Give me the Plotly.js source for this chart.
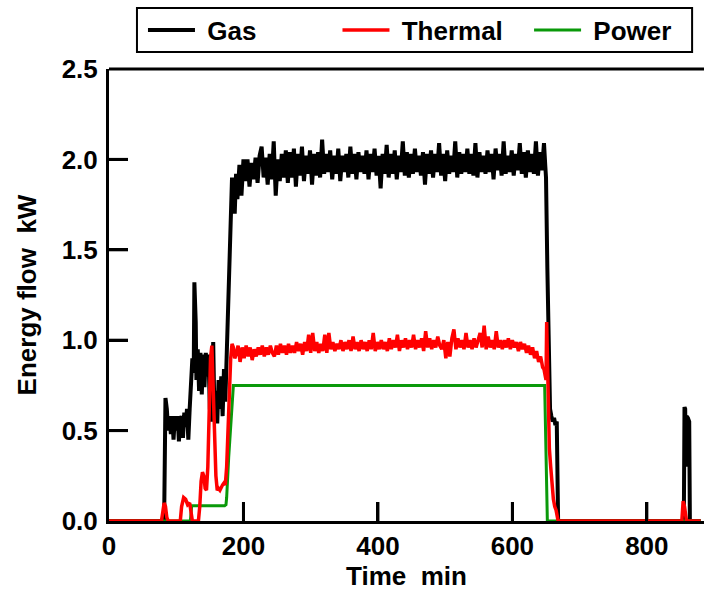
<!DOCTYPE html>
<html><head><meta charset="utf-8">
<script src="https://cdn.plot.ly/plotly-3.0.1.min.js"></script>
<style>html,body{margin:0;padding:0;background:#fff;overflow:hidden}</style>
</head><body><div id="chart" style="width:704px;height:596px"></div>
<script>
// ---- data (minutes, kW) ----
const gasTime = [0,82,84,86,88,90,92,94,96,98,100,102,104,106,108,110,112,114,116,118,120,
  122,124,126,127,129,130,132,134,136,138,140,142,144,146,148,150,152,154,155,157,159,161,163,165,167,169,171,173,
  175,177,179,181,183,185,187,189,
  191,194,197,200,203,206,209,212,215,218,
  221,224,227,230,233,236,239,242,245,248,
  251,254,257,260,263,266,269,272,275,278,
  281,284,287,290,293,296,299,302,305,308,
  311,314,317,320,323,326,329,332,335,338,
  341,344,347,350,353,356,359,362,365,368,
  371,374,377,380,383,386,389,392,395,398,
  401,404,407,410,413,416,419,422,425,428,
  431,434,437,440,443,446,449,452,455,458,
  461,464,467,470,473,476,479,482,485,488,
  491,494,497,500,503,506,509,512,515,518,
  521,524,527,530,533,536,539,542,545,548,
  551,554,557,560,563,566,569,572,575,578,
  581,584,587,590,593,596,599,602,605,608,
  611,614,617,620,623,626,629,632,635,638,
  641,644,647,
  649,650,652,654,656,658,660,662,664,666,667,668,
  855,856,857,858,859,861,863,864,880];
const gasFlow = [0,0,0.68,0.62,0.50,0.58,0.48,0.58,0.45,0.58,0.50,0.58,0.44,0.56,0.58,0.46,0.60,0.52,0.62,0.45,0.62,
  0.80,0.90,0.82,1.32,1.10,0.78,0.95,0.72,0.93,0.70,0.92,0.74,0.93,0.80,0.92,0.62,0.55,0.86,0.99,0.55,0.72,0.54,0.78,0.62,0.80,0.58,0.84,0.66,
  0.90,1.25,1.55,1.72,1.90,1.85,1.70,1.92,
  1.78,1.97,1.80,2.00,1.88,2.00,1.85,1.98,1.89,2.01,
  1.87,2.02,2.07,1.90,2.01,1.86,2.03,1.89,2.10,1.80,
  2.00,1.88,2.03,1.90,2.05,1.87,2.04,1.90,2.06,1.85,
  2.03,1.91,2.07,1.88,2.02,1.92,2.05,1.86,2.03,1.91,
  2.04,1.90,2.11,1.92,2.03,1.93,2.05,1.89,2.02,1.92,
  2.06,1.88,2.02,1.93,2.03,1.90,2.07,1.92,2.03,1.89,
  2.04,1.93,2.02,1.92,2.05,1.89,2.03,1.93,2.06,1.91,
  2.02,1.84,2.03,1.92,2.08,1.90,2.03,1.92,2.05,1.89,
  2.02,1.93,2.10,1.91,2.04,1.90,2.03,1.92,2.06,1.93,
  2.02,1.91,2.04,1.86,2.03,1.92,2.05,1.90,2.03,1.93,
  2.09,1.91,2.03,1.88,2.05,1.92,2.02,1.93,2.10,1.90,
  2.04,1.92,2.03,1.93,2.06,1.92,2.03,1.91,2.09,1.90,
  2.04,1.93,2.02,1.92,2.05,1.93,2.03,1.89,2.06,1.94,
  2.03,1.91,2.10,1.92,2.02,1.93,2.05,1.91,2.03,1.94,
  2.09,1.92,2.04,1.90,2.05,1.93,2.03,1.92,2.10,1.91,
  2.04,1.94,2.09,
  1.96,1.90,1.40,0.90,0.62,0.58,0.55,0.57,0.53,0.55,0.20,0,
  0,0.63,0.62,0.30,0.58,0.57,0.55,0,0];

const thermalTime = [0,78,80,82,84,86,88,106,108,111,114,117,120,122,124,133,135,137,139,141,143,145,147,149,151,153,155,157,159,161,163,165,167,169,171,173,
  175,177,179,181,183,185,187,
  189,192,195,198,201,204,207,210,213,216,
  219,222,225,228,231,234,237,240,243,246,
  249,252,255,258,261,264,267,270,273,276,
  279,282,285,288,291,294,297,300,303,306,
  309,312,315,318,321,324,327,330,333,336,
  339,342,345,348,351,354,357,360,363,366,
  369,372,375,378,381,384,387,390,393,396,
  399,402,405,408,411,414,417,420,423,426,
  429,432,435,438,441,444,447,450,453,456,
  459,462,465,468,471,474,477,480,483,486,
  489,492,495,498,501,504,507,510,513,516,
  519,522,525,528,531,534,537,540,543,546,
  549,552,555,558,561,564,567,570,573,576,
  579,582,585,588,591,594,597,600,603,606,
  609,612,615,618,621,624,627,630,633,636,
  639,642,645,
  647,649,650,651,653,655,657,659,661,663,665,667,668,
  852,854,856,858,859,880];
const thermalFlow = [0,0,0.05,0.10,0.08,0.02,0,0,0.08,0.13,0.12,0.09,0.10,0.06,0,0,0.08,0.22,0.27,0.25,0.18,0.17,0.30,0.60,0.90,0.97,0.75,0.45,0.25,0.17,0.18,0.17,0.19,0.20,0.21,0.20,
  0.30,0.50,0.75,0.90,0.98,0.96,0.90,
  0.92,0.97,0.88,0.96,0.90,0.97,0.91,0.96,0.89,0.95,
  0.91,0.96,0.92,0.97,0.91,0.96,0.92,0.97,0.93,0.91,
  0.97,0.92,0.98,0.93,0.97,0.92,0.98,0.93,0.97,0.93,
  0.99,0.94,0.98,0.92,0.99,0.94,1.03,0.93,1.04,0.94,
  0.99,0.93,0.98,0.94,1.03,0.93,1.04,0.95,0.99,0.94,
  0.98,0.95,1.00,0.94,0.99,0.95,1.00,0.94,1.02,0.95,
  0.99,0.94,1.00,0.95,0.99,0.94,1.00,0.95,1.04,0.94,
  0.99,0.95,1.00,0.95,0.99,0.94,1.01,0.95,1.00,0.96,
  1.03,0.94,1.00,0.96,1.01,0.95,1.00,0.96,1.03,0.95,
  1.00,0.96,1.01,0.94,1.05,0.96,1.01,0.95,1.00,0.96,
  1.02,0.97,0.95,1.00,0.90,0.99,0.91,1.01,1.06,0.95,
  1.01,0.96,1.00,0.95,1.04,0.96,1.00,0.95,1.01,0.96,
  1.00,1.04,0.96,1.08,0.95,1.02,0.96,1.00,0.95,1.05,
  0.96,1.00,0.95,1.00,0.96,1.01,0.95,1.00,0.96,0.99,
  0.94,0.99,0.95,0.98,0.93,0.97,0.92,0.96,0.90,0.94,
  0.88,0.91,0.85,
  0.84,0.80,0.78,1.10,0.70,0.40,0.30,0.20,0.12,0.08,0.06,0.02,0,
  0,0.11,0.08,0.01,0,0];

const powerTime = [0,121,123,172,174,175,178,182,185,648,652,880];
const powerFlow = [0,0,0.085,0.085,0.09,0.13,0.35,0.62,0.75,0.75,0,0];

const xTickVals = [0,200,400,600,800];
const xTickLabels = ['0','200','400','600','800'];
const yTickVals = [0,0.5,1,1.5,2,2.5];
const yTickLabels = ['0.0','0.5','1.0','1.5','2.0','2.5'];

// ---- styling ----
const X_RANGE = [0,885], Y_RANGE = [0,2.5];
const PLOT_W = 595, PLOT_H = 452, TICK_PX = 19;
const FONT = {family:'Liberation Sans, Arial, sans-serif', size:26, color:'#000', weight:'bold'};

// inward tick marks, placed in data space on the axes' scales (19 px long)
const tickLenY = TICK_PX * (Y_RANGE[1]-Y_RANGE[0]) / PLOT_H;
const tickLenX = TICK_PX * (X_RANGE[1]-X_RANGE[0]) / PLOT_W;
const tickX = [], tickY = [];
xTickVals.filter(v => v > X_RANGE[0]).forEach(v => { tickX.push(v, v, null); tickY.push(Y_RANGE[0], Y_RANGE[0] + tickLenY, null); });
yTickVals.filter(v => v > Y_RANGE[0] && v < Y_RANGE[1]).forEach(v => { tickX.push(X_RANGE[0], X_RANGE[0] + tickLenX, null); tickY.push(v, v, null); });

const traces = [
  {x:tickX, y:tickY, mode:'lines', line:{color:'#000', width:3}, showlegend:false, hoverinfo:'skip', connectgaps:false, legend:'legend'},
  {x:gasTime, y:gasFlow, name:'\u00a0Gas', mode:'lines', line:{color:'#000000', width:4}, legend:'legend'},
  {x:powerTime, y:powerFlow, name:'\u00a0Power', mode:'lines', line:{color:'#0a990a', width:3}, legend:'legend3'},
  {x:thermalTime, y:thermalFlow, name:'\u00a0Thermal', mode:'lines', line:{color:'#ff0000', width:3.5}, legend:'legend2'}
];
function leg(x){
  return {x:x, y:1.0863, xanchor:'left', yanchor:'middle', orientation:'h', font:FONT,
          itemwidth:47, bgcolor:'rgba(0,0,0,0)', borderwidth:0};
}
const axisCommon = {ticks:'inside', ticklen:TICK_PX, tickwidth:3, tickcolor:'#000', showline:true, linewidth:3,
  linecolor:'#000', showgrid:false, zeroline:false, tickfont:FONT};

const layout = {
  width:704, height:596, paper_bgcolor:'#fff', plot_bgcolor:'rgba(0,0,0,0)',
  margin:{l:109, r:0, t:69, b:75},
  showlegend:true,
  legend:leg(0.0571), legend2:leg(0.3840), legend3:leg(0.7060),
  xaxis:Object.assign({}, axisCommon, {range:X_RANGE, tickmode:'array', tickvals:xTickVals, ticktext:xTickLabels,
    title:{text:'Time\u00a0\u00a0min', font:FONT, standoff:4}}),
  yaxis:Object.assign({}, axisCommon, {range:Y_RANGE, tickmode:'array', tickvals:yTickVals, ticktext:yTickLabels,
    ticklabelstandoff:3, title:{text:'Energy flow\u00a0\u00a0kW', font:FONT, standoff:18}}),
  shapes:[
    {type:'line', xref:'paper', yref:'paper', x0:0, x1:1, y0:1, y1:1, line:{color:'#000', width:3}},
    {type:'rect', xref:'paper', yref:'paper', x0:0.047, x1:0.980, y0:1.0376, y1:1.135, line:{color:'#000', width:2}}
  ]
};
Plotly.newPlot('chart', traces, layout, {displayModeBar:false});
</script></body></html>
